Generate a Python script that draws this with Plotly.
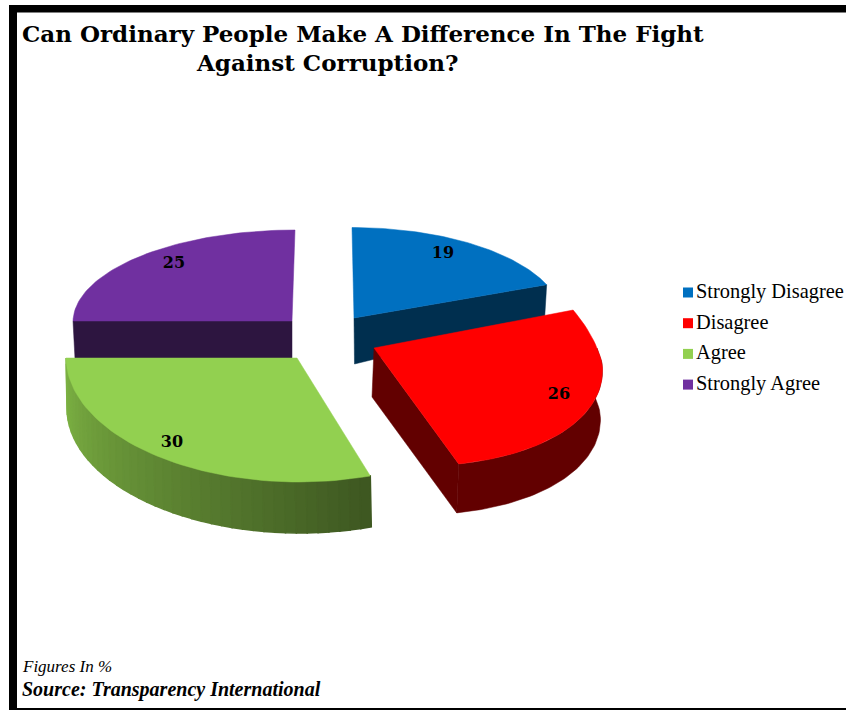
import math
import plotly.graph_objects as go

categories = ["Strongly Disagree", "Disagree", "Agree", "Strongly Agree"]
values = [19, 26, 30, 25]
colors = ["#0070C0", "#FF0000", "#92D050", "#7030A0"]
title_lines = ["Can Ordinary People Make A Difference In The Fight", "Against Corruption?"]
note_lines = ["Figures In %", "Source: Transparency International"]

W, H = 846, 710
# Hand-fitted projection of each exploded slice (canvas pixels)
GEOM = {
    "Strongly Disagree": dict(ax=354, ay=318, rx=208, ryt=90.5, ryb=90, sxt=2, sxb=0, sy=0, depth=46, dx=0.5, label=(443, 254)),
    "Disagree": dict(ax=374, ay=348, rx=228, ryt=141, ryb=117, sxt=35, sxb=15, sy=15, depth=49, dx=-2, label=(559, 395)),
    "Agree": dict(ax=297, ay=358, rx=231, ryt=100, ryb=124, sxt=0, sxb=2, sy=0, depth=51, dx=1, label=(172, 443)),
    "Strongly Agree": dict(ax=292, ay=321, rx=219, ryt=91, ryb=91, sxt=-3, sxb=0, sy=0, depth=38, dx=2, label=(174, 264)),
}
DARK = {"Strongly Disagree": "#002F4F", "Disagree": "#620000", "Strongly Agree": "#2D1540"}
GREEN_L, GREEN_R = (126, 180, 68), (62, 88, 33)


def pt(g, deg):
    t = math.radians(deg)
    c, s = math.cos(t), math.sin(t)
    ry = g["ryt"] if c > 0 else g["ryb"]
    sx = g["sxt"] if c > 0 else g["sxb"]
    return g["ax"] + g["rx"] * s - sx * c, g["ay"] - ry * c + g["sy"] * s


def arc(g, a0, a1, n=60):
    return [pt(g, a0 + (a1 - a0) * i / n) for i in range(n + 1)]


def down(g, pts):
    return [(x + g["dx"], y + g["depth"]) for x, y in pts]


def poly(pts, color, name, lw=0.5):
    xs = [p[0] for p in pts] + [pts[0][0]]
    ys = [p[1] for p in pts] + [pts[0][1]]
    return go.Scatter(x=xs, y=ys, mode="lines", fill="toself", fillcolor=color,
                      line=dict(color=color, width=lw), name=name,
                      showlegend=False, hoverinfo="skip")


# slice angles, clockwise from twelve o'clock, from the data
total = sum(values)
angles = {}
acc = 0
for c, v in zip(categories, values):
    angles[c] = (acc / total * 360, (acc + v) / total * 360)
    acc += v

fig = go.Figure()
apex = lambda g: (g["ax"], g["ay"])

# Strongly Agree
c = "Strongly Agree"; g = GEOM[c]; a0, a1 = angles[c]
left = pt(g, a0)
fig.add_trace(poly([apex(g), left, (left[0] + g["dx"], left[1] + g["depth"]), (g["ax"], g["ay"] + g["depth"])],
                   DARK[c], c + " side"))
fig.add_trace(poly([apex(g)] + arc(g, a0, a1), colors[3], c))

# Strongly Disagree
c = "Strongly Disagree"; g = GEOM[c]; a0, a1 = angles[c]
end = pt(g, a1)
fig.add_trace(poly([apex(g), end, (end[0] - 2, end[1] + g["depth"] - 13), (g["ax"] + g["dx"], g["ay"] + g["depth"])],
                   DARK[c], c + " side"))
fig.add_trace(poly([apex(g)] + arc(g, a0, a1), colors[0], c))

# Agree: rim with a left-to-right shading
c = "Agree"; g = GEOM[c]; a0, a1 = angles[c]
rim = arc(g, a1, a0, 40)
for i in range(40):
    f = i / 39
    col = "rgb(%d,%d,%d)" % tuple(round(GREEN_L[k] + (GREEN_R[k] - GREEN_L[k]) * f) for k in range(3))
    seg = [rim[i], rim[i + 1]]
    fig.add_trace(poly(seg + down(g, seg)[::-1], col, c + " rim", lw=1.5))
fig.add_trace(poly([apex(g)] + arc(g, a0, a1), colors[2], c))

# Disagree
c = "Disagree"; g = GEOM[c]; a0, a1 = angles[c]
r = arc(g, 84, a1)
fig.add_trace(poly([apex(g), pt(g, a1)] + down(g, [pt(g, a1), apex(g)]), DARK[c], c + " side"))
fig.add_trace(poly(r + down(g, r)[::-1], DARK[c], c + " rim"))
fig.add_trace(poly([apex(g)] + arc(g, a0, a1), colors[1], c))

# value labels
for c, v in zip(categories, values):
    lx, ly = GEOM[c]["label"]
    fig.add_trace(go.Scatter(x=[lx], y=[ly], mode="text", text=["<b>%d</b>" % v], showlegend=False,
                             hoverinfo="skip", textposition="middle center",
                             textfont=dict(family="DejaVu Serif", size=16, color="black")))

# key
LEG_X, LEG_Y, LEG_STEP = 688, 292.5, 30.7
for i, (c, col) in enumerate(zip(categories, colors)):
    fig.add_trace(go.Scatter(x=[LEG_X], y=[LEG_Y + i * LEG_STEP], mode="markers", name=c, showlegend=False,
                             marker=dict(symbol="square", size=10, color=col), hoverinfo="name"))

ann = []
def text(x, y, s, size, family="Liberation Serif", bold=False, italic=False):
    if bold:
        s = "<b>%s</b>" % s
    if italic:
        s = "<i>%s</i>" % s
    ann.append(dict(x=x, y=y, xref="x", yref="y", text=s, showarrow=False, xanchor="left", yanchor="middle",
                    borderpad=0, borderwidth=0, align="left",
                    font=dict(family=family, size=size, color="black")))

text(22, 33, title_lines[0], 23, family="DejaVu Serif", bold=True)
text(196, 62, title_lines[1], 23, family="DejaVu Serif", bold=True)
for i, c in enumerate(categories):
    text(696, LEG_Y + i * LEG_STEP - 1, c, 20.4)
text(21.5, 666.5, note_lines[0], 17, italic=True)
text(21.5, 689, note_lines[1], 20, bold=True, italic=True)

frame = [
    dict(type="rect", x0=9, x1=17, y0=5, y1=710),
    dict(type="rect", x0=9, x1=846, y0=5, y1=12.5),
    dict(type="rect", x0=9, x1=846, y0=708, y1=710),
]
for s in frame:
    s.update(xref="x", yref="y", fillcolor="black", line=dict(width=0), layer="below")

fig.update_layout(
    width=W, height=H, margin=dict(l=0, r=0, t=0, b=0), autosize=False,
    paper_bgcolor="white", plot_bgcolor="white", showlegend=False,
    xaxis=dict(range=[0, W], visible=False, fixedrange=True),
    yaxis=dict(range=[H, 0], visible=False, fixedrange=True),
    annotations=ann, shapes=frame,
)
fig.write_html("out.html", config={"displayModeBar": False},
               post_script="document.body.style.margin='0';document.documentElement.style.overflow='hidden';")
